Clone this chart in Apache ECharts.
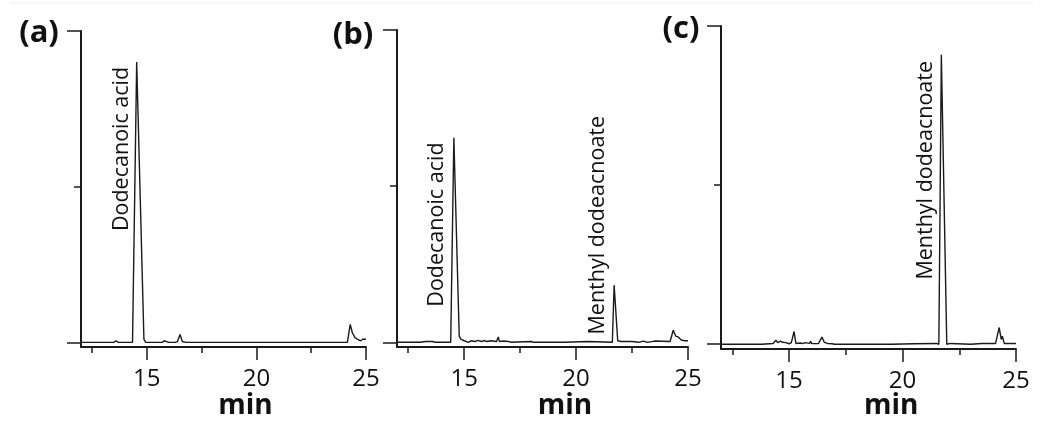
<!DOCTYPE html>
<html><head><meta charset="utf-8">
<script src="https://cdn.jsdelivr.net/npm/echarts@6/dist/echarts.min.js"></script>
<style>html,body{margin:0;padding:0;background:#fff}#c{width:1050px;height:422px}</style>
</head><body><div id="c"></div>
<script>
// ---- data ----
const xMajorTicks = [15, 20, 25];
const xMinorTicks = [12.5, 17.5, 22.5];
const yMajorTicks = [0, 2];
const yMinorTicks = [1];
const panelNames = ['(a)', '(b)', '(c)'];
const axisTitle = 'min';

const timeA = [12.0, 13.5, 13.6, 13.7, 14.35, 14.54, 14.87, 14.95, 15.7, 15.8, 15.9, 16.0, 16.3, 16.4, 16.52, 16.62, 16.8, 16.85, 16.95, 17.3, 17.35, 24.05, 24.15, 24.28, 24.38, 24.42, 24.5, 24.6, 24.75, 24.85, 25.0];
const signalA = [0, 0, 0.01, 0, 0, 1.80, 0.02, 0, 0, 0.01, 0.005, 0, 0, 0.005, 0.05, 0.005, 0, 0.01, 0, 0, 0.005, 0, 0, 0.115, 0.06, 0.07, 0.03, 0.02, 0.01, 0.02, 0.02];

const timeB = [12.0, 13.0, 13.3, 13.6, 13.7, 14.4, 14.54, 14.78, 14.85, 15.0, 15.2, 15.3, 15.5, 15.6, 15.8, 15.9, 16.0, 16.2, 16.45, 16.52, 16.58, 16.7, 17.0, 17.1, 18.0, 18.1, 19.5, 20.5, 21.62, 21.70, 21.86, 22.0, 22.5, 22.8, 23.0, 23.2, 23.5, 24.2, 24.34, 24.45, 24.55, 24.7, 24.85, 25.0];
const signalB = [0, 0, 0.005, 0.005, 0, 0, 1.31, 0.04, 0.02, 0.01, 0.0, 0.01, 0.005, 0.012, 0.005, 0.012, 0.005, 0.01, 0.005, 0.035, 0.005, 0.008, 0.005, 0, 0.005, 0, 0, 0.005, 0, 0.366, 0.01, 0.005, 0.005, 0.0, 0.008, 0, 0.008, 0.005, 0.077, 0.04, 0.035, 0.015, 0.01, 0.01];

const timeC = [12.0, 13.8, 13.85, 14.3, 14.42, 14.5, 14.62, 14.72, 14.85, 15.0, 15.1, 15.22, 15.3, 15.5, 15.6, 15.7, 15.9, 15.95, 16.0, 16.3, 16.45, 16.55, 16.7, 16.9, 17.0, 19.5, 20.5, 21.5, 21.6, 21.71, 21.95, 22.1, 23.0, 23.5, 24.1, 24.26, 24.35, 24.4, 24.48, 24.55, 25.0];
const signalC = [0, 0, 0.005, 0.005, 0.025, 0.01, 0.02, 0.012, 0.01, 0.003, 0.01, 0.08, 0.005, 0.008, 0.004, 0.01, 0.005, 0.018, 0.004, 0.005, 0.045, 0.012, 0.005, 0.003, 0, 0, 0.003, 0.005, 0, 1.82, 0, 0.005, 0, 0.005, 0.005, 0.105, 0.03, 0.05, 0.005, 0.005, 0.005];

const peakNames = ['Dodecanoic acid', 'Dodecanoic acid', 'Menthyl dodeacnoate', 'Menthyl dodeacnoate'];
const peakPanel = [0, 1, 1, 2];

// ---- layout (not data) ----
const annotationLayout = [
  {x: 13.87, y: 1.77, end: 'top'},
  {x: 13.80, y: 1.28, end: 'top'},
  {x: 20.99, y: 0.05, end: 'bottom'},
  {x: 21.04, y: 1.78, end: 'top'}
];
const grids = [
  {left: 81, top: 31, width: 285, height: 316},
  {left: 397, top: 30, width: 291, height: 317},
  {left: 721, top: 26, width: 295, height: 323}
];
const panelLabelPos = [[39, 33], [353, 35], [681, 29]];
const X_MIN = 12, X_MAX = 25, Y_MIN = -0.03, Y_MAX = 2;

const INK = '#1a1a1a';
const series = [[timeA, signalA], [timeB, signalB], [timeC, signalC]];

const xAxis = [], yAxis = [], seriesOpt = [];
grids.forEach((g, i) => {
  // major x ticks with labels
  xAxis.push({
    type: 'value', gridIndex: i, min: X_MIN, max: X_MAX, position: 'bottom',
    axisLine: {show: true, onZero: false, lineStyle: {color: INK, width: 2}},
    axisTick: {show: true, length: 13, customValues: xMajorTicks, lineStyle: {color: INK, width: 1.5}},
    axisLabel: {show: true, customValues: xMajorTicks, margin: 20, fontSize: 24, color: '#111', fontFamily: 'Open Sans'},
    splitLine: {show: false}
  });
  // minor x ticks
  xAxis.push({
    type: 'value', gridIndex: i, min: X_MIN, max: X_MAX, position: 'bottom',
    axisLine: {show: false, onZero: false},
    axisTick: {show: true, length: 6, customValues: xMinorTicks, lineStyle: {color: INK, width: 1.5}},
    axisLabel: {show: false}, splitLine: {show: false}
  });
  yAxis.push({
    type: 'value', gridIndex: i, min: Y_MIN, max: Y_MAX, position: 'left',
    axisLine: {show: true, onZero: false, lineStyle: {color: INK, width: 2}},
    axisTick: {show: true, length: 14, customValues: yMajorTicks, lineStyle: {color: INK, width: 1.5}},
    axisLabel: {show: false}, splitLine: {show: false}
  });
  yAxis.push({
    type: 'value', gridIndex: i, min: Y_MIN, max: Y_MAX, position: 'left',
    axisLine: {show: false, onZero: false},
    axisTick: {show: true, length: 7, customValues: yMinorTicks, lineStyle: {color: INK, width: 1.5}},
    axisLabel: {show: false}, splitLine: {show: false}
  });
  const [t, s] = series[i];
  seriesOpt.push({
    type: 'line', xAxisIndex: 2 * i, yAxisIndex: 2 * i, showSymbol: false, silent: true,
    data: t.map((v, k) => [v, s[k]]),
    lineStyle: {color: INK, width: 1.4}
  });
});

const chart = echarts.init(document.getElementById('c'), null, {renderer: 'canvas'});
chart.setOption({
  animation: false, backgroundColor: '#fff',
  grid: grids.map(g => Object.assign({containLabel: false}, g)),
  xAxis, yAxis, series: seriesOpt
});

const graphic = [
  {type: 'line', shape: {x1: 10, y1: 3, x2: 1033, y2: 3}, style: {stroke: '#eeeeee', lineWidth: 1}}
];
panelNames.forEach((name, i) => {
  graphic.push({type: 'text', x: panelLabelPos[i][0], y: panelLabelPos[i][1],
    style: {text: name, font: 'bold 31px "Open Sans"', fill: '#111', align: 'center', verticalAlign: 'middle'}});
  const p = chart.convertToPixel({gridIndex: i}, [19.5, 0]);
  graphic.push({type: 'text', x: p[0], y: 406,
    style: {text: axisTitle, font: 'bold 28px "Open Sans"', fill: '#111', align: 'center', verticalAlign: 'middle'}});
});
peakNames.forEach((name, k) => {
  const a = annotationLayout[k];
  const p = chart.convertToPixel({gridIndex: peakPanel[k]}, [a.x, a.y]);
  graphic.push({type: 'text', x: p[0], y: p[1], rotation: Math.PI / 2,
    style: {text: name, font: '21.5px "Open Sans"', fill: '#111',
      align: a.end === 'top' ? 'right' : 'left', verticalAlign: 'middle'}});
});
chart.setOption({graphic});
</script>
</body></html>
